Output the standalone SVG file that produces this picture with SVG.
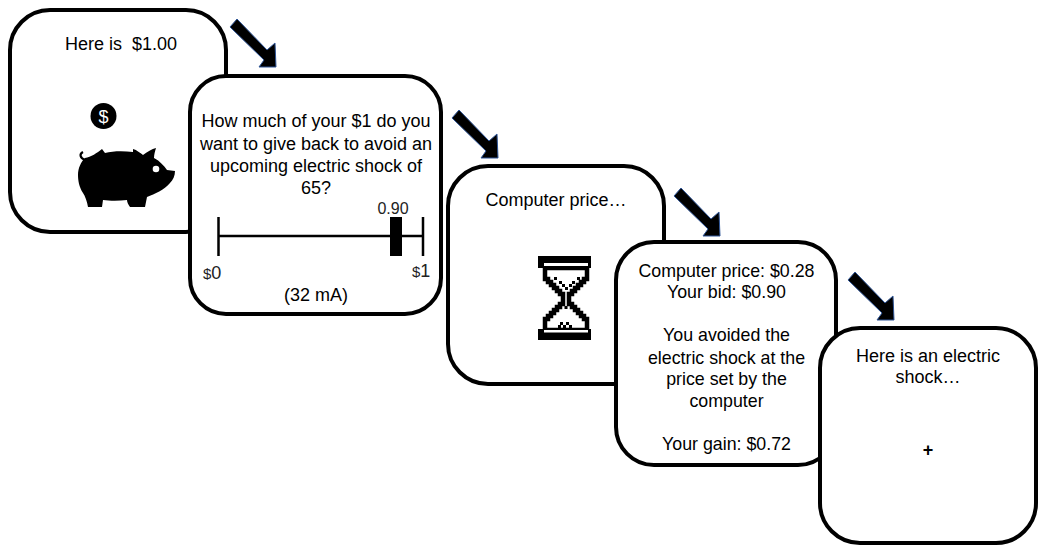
<svg xmlns="http://www.w3.org/2000/svg" width="1046" height="554" viewBox="0 0 1046 554">
<style>
.box{fill:#fff;stroke:#000;stroke-width:4}
text{font-family:"Liberation Sans",Arial,sans-serif;font-size:18px;fill:#000;text-anchor:middle}
.sm{font-size:16px;fill:#222}
.ink{fill:#000}
</style>
<defs>
<polygon id="arrow" points="237,19 267,50 275,43 276,67 259,67 264,60 230,27" fill="#000" stroke="#2f5597" stroke-width="1"/>
</defs>
<rect width="1046" height="554" fill="#fff"/>
<g id="card1">
<rect class="box" x="10" y="10" width="216" height="222" rx="40"/>
<text x="121" y="50" xml:space="preserve">Here is  $1.00</text>
<circle class="ink" cx="103.500" cy="116" r="13"/>
<text x="103.500" y="122.500" style="fill:#fff;font-size:18px">$</text>
<path class="ink" d="M85,158 C91,157 97,153 102,149 L105,153 C113,151 123,151 133,152 L133,149 C137,150 140,153 143,155 C147,152 152,149 156,148 C155,151 154,155 154,158 C160,161 164,166 167,170 L175,171 C175,176 173,180 170,183 C164,190 155,194 147,197 L145,207 L130,207 C128,204 127,202 127,200 C119,201 110,201 103,200 L102,207 L88,207 C87,201 85,196 83,193 C79,187 78,180 78,175 C78,168 81,162 85,158 Z"/>
<path d="M85,160 C80,158 79,154 83,152" fill="none" stroke="#000" stroke-width="2.200"/>
<circle cx="156" cy="169" r="3.300" fill="#fff"/>
</g>
<g id="card2">
<rect class="box" x="190" y="76" width="251" height="238" rx="36"/>
<text x="316" y="127">How much of your $1 do you</text>
<text x="316" y="150">want to give back to avoid an</text>
<text x="316" y="172">upcoming electric shock of</text>
<text x="316" y="194">65?</text>
<path d="M218.500,217V256M423,217V256M218,236H423" stroke="#000" stroke-width="2.500" fill="none"/>
<rect class="ink" x="390" y="217" width="12" height="39"/>
<text class="sm" x="393" y="214">0.90</text>
<text x="203" y="279" style="text-anchor:start;fill:#222"><tspan style="font-size:15px">$</tspan><tspan style="font-size:18px">0</tspan></text>
<text x="412" y="277" style="text-anchor:start;fill:#222"><tspan style="font-size:15px">$</tspan><tspan style="font-size:18px">1</tspan></text>
<text x="316" y="301">(32 mA)</text>
</g>
<g id="card3">
<rect class="box" x="448" y="166" width="216" height="218" rx="40"/>
<text x="556" y="206">Computer price…</text>
<path d="M545,268V279H548V282H551V285H554V288H557V291H560V294H563V304H560V307H557V310H554V313H551V316H548V319H545V330H587V319H584V316H581V313H578V310H575V307H572V304H569V294H572V291H575V288H578V285H581V282H584V279H587V268Z" fill="#fff" stroke="#000" stroke-width="4.500"/>
<rect class="ink" x="538" y="256" width="53" height="12"/>
<rect x="544" y="263" width="44" height="3" fill="#fff"/>
<rect class="ink" x="538" y="329" width="53" height="11"/>
<rect x="544" y="330" width="44" height="2.500" fill="#fff"/>
<path class="ink" d="M554,277h3v3h-3zM577,277h3v3h-3zM559,281h3v3h-3zM572,281h3v3h-3zM562,284h3v3h-3zM569,284h3v3h-3zM565,287h3v3h-3zM564.500,306h3v3h-3zM560,322h3v3h-3zM566,322h3v3h-3zM558,325h3v3h-3zM563,325h3v3h-3zM569,325h3v3h-3z"/>
</g>
<g id="card4">
<rect class="box" x="616" y="242" width="220" height="223" rx="38"/>
<text x="726.500" y="277" style="font-size:17.800px">Computer price: $0.28</text>
<text x="726.500" y="298" style="font-size:17.800px">Your bid: $0.90</text>
<text x="726.500" y="341" style="font-size:17.800px">You avoided the</text>
<text x="726.500" y="364" style="font-size:17.800px">electric shock at the</text>
<text x="726.500" y="385" style="font-size:17.800px">price set by the</text>
<text x="726.500" y="407" style="font-size:17.800px">computer</text>
<text x="726.500" y="450" style="font-size:17.800px">Your gain: $0.72</text>
</g>
<g id="card5">
<rect class="box" x="820" y="328" width="216" height="215" rx="40"/>
<text x="928" y="362">Here is an electric</text>
<text x="928" y="383">shock…</text>
<text x="928" y="456" style="font-weight:bold">+</text>
</g>
<g id="connectors">
<use href="#arrow"/>
<use href="#arrow" x="222" y="91"/>
<use href="#arrow" x="444" y="169"/>
<use href="#arrow" x="618" y="253"/>
</g>
</svg>
